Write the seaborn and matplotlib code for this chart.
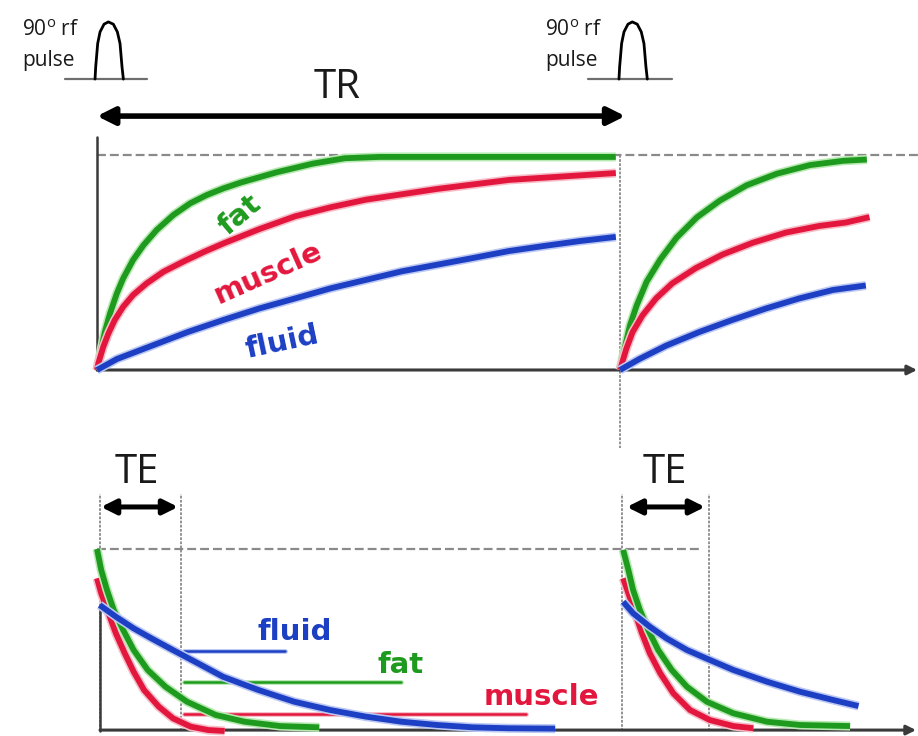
import matplotlib.pyplot as plt
import matplotlib.patheffects as pe
import seaborn as sns
import numpy as np
import pandas as pd

# time in ms (TR = 1000 ms), signal as fraction of the equilibrium magnetisation
TR = 1000
tissues = ['fat', 'muscle', 'fluid']

# T1 recovery (Mz) after the first pulse
rec1_t = {
    'fat': [0, 2.5, 9, 15, 25, 38, 50, 69, 89, 114, 146, 178, 210, 242, 275, 344, 413, 474, 540, 992],
    'muscle': [0, 2.5, 12, 22, 34, 50, 69, 95, 127, 165, 205, 243, 310, 379, 447, 514, 650, 788, 992],
    'fluid': [0, 38, 105, 174, 242, 310, 379, 447, 514, 583, 651, 719, 787, 855, 924, 992],
}
rec1_s = {
    'fat': [0, 0.031, 0.108, 0.178, 0.264, 0.357, 0.426, 0.512, 0.581, 0.651, 0.721, 0.775, 0.814,
            0.845, 0.872, 0.920, 0.960, 0.985, 0.991, 0.991],
    'muscle': [0, 0.031, 0.108, 0.171, 0.233, 0.294, 0.349, 0.403, 0.457, 0.504, 0.550, 0.590, 0.655,
               0.715, 0.757, 0.792, 0.842, 0.884, 0.916],
    'fluid': [0, 0.051, 0.113, 0.177, 0.233, 0.286, 0.333, 0.380, 0.419, 0.459, 0.490, 0.521, 0.553, 0.577, 0.600, 0.619],
}
# T1 recovery after the second pulse (time since that pulse)
rec2_t = {
    'fat': [0, 10, 19, 32, 51, 77, 108, 147, 191, 242, 300, 363, 427, 472],
    'muscle': [0, 12, 24, 43, 69, 100, 145, 196, 254, 317, 381, 432, 477],
    'fluid': [0, 37, 88, 152, 215, 279, 343, 407, 470],
}
rec2_s = {
    'fat': [0, 0.113, 0.207, 0.301, 0.411, 0.514, 0.615, 0.710, 0.788, 0.859, 0.913, 0.953, 0.973, 0.979],
    'muscle': [0, 0.098, 0.176, 0.254, 0.333, 0.403, 0.474, 0.537, 0.592, 0.639, 0.670, 0.686, 0.711],
    'fluid': [0, 0.051, 0.113, 0.177, 0.233, 0.286, 0.333, 0.372, 0.393],
}

# T2 decay (Mxy) after the first pulse
dec1_t = {
    'fat': [0, 8, 19, 32, 50, 70, 97, 131, 172, 227, 282, 350, 425],
    'muscle': [0, 8, 22, 36, 53, 70, 90, 118, 145, 179, 213, 244],
    'fluid': [5, 36, 70, 104, 145, 193, 241, 309, 377, 446, 514, 582, 650, 719, 787, 876],
}
dec1_s = {
    'fat': [1.0, 0.885, 0.775, 0.665, 0.555, 0.445, 0.335, 0.243, 0.161, 0.088, 0.051, 0.027, 0.020],
    'muscle': [0.839, 0.757, 0.647, 0.537, 0.427, 0.326, 0.225, 0.134, 0.070, 0.024, 0.005, 0.0],
    'fluid': [0.692, 0.628, 0.564, 0.509, 0.445, 0.372, 0.298, 0.225, 0.161, 0.115, 0.079, 0.051, 0.033, 0.020, 0.015, 0.013],
}
# T2 decay after the second pulse
dec2_t = {
    'fat': [6, 16, 25, 38, 54, 73, 99, 128, 166, 217, 281, 344, 440],
    'muscle': [6, 16, 29, 42, 57, 77, 102, 134, 172, 217, 255],
    'fluid': [6, 25, 57, 89, 128, 172, 217, 281, 344, 408, 456],
}
dec2_s = {
    'fat': [0.995, 0.885, 0.775, 0.665, 0.555, 0.445, 0.335, 0.243, 0.161, 0.097, 0.051, 0.033, 0.027],
    'muscle': [0.839, 0.757, 0.647, 0.537, 0.427, 0.317, 0.207, 0.115, 0.060, 0.027, 0.015],
    'fluid': [0.710, 0.647, 0.573, 0.509, 0.445, 0.390, 0.335, 0.271, 0.216, 0.170, 0.137],
}

# shape of the rf pulse glyph (time from its left foot, fraction of height)
pulse_t = [0, 1.3, 5.1, 9.6, 17.2, 25.5, 35, 42.7, 47.8, 51.6, 54.2]
pulse_h = [0, 0.215, 0.623, 0.825, 0.96, 1.0, 0.96, 0.825, 0.623, 0.215, 0]

palette = {'fat': '#1e9b1e', 'muscle': '#e3173d', 'fluid': '#1c3fc4'}
halo = {'fat': '#b9e9b3', 'muscle': '#f6bcc7', 'fluid': '#bcc8f3'}
ink = '#1a1a1a'

sns.set_theme(style='white')
plt.rcParams['font.family'] = ['DejaVu Sans']

fig = plt.figure(figsize=(9.18, 7.36), dpi=100)
ax_top = fig.add_axes([0, 316 / 736, 1, 420 / 736])
ax_bot = fig.add_axes([0, 0, 1, 316 / 736])
for ax in (ax_top, ax_bot):
    ax.set_xlim(-185.5, 1569.8)
    ax.axis('off')
ax_top.set_ylim(-0.2326, 1.7209)
ax_bot.set_ylim(-0.0275, 1.7088)


def curve(ax, t, s, tissue, offset=0):
    df = pd.DataFrame({'t': np.array(t) + offset, 'signal': s})
    sns.lineplot(data=df, x='t', y='signal', color=palette[tissue], lw=4.2,
                 sort=False, estimator=None, ax=ax, solid_capstyle='butt',
                 solid_joinstyle='round', zorder=5)
    ax.lines[-1].set_path_effects([pe.Stroke(linewidth=6.5, foreground=halo[tissue]), pe.Normal()])


grey = '#8a8a8a'
axis_col = '#3a3a3a'

# ---------- top panel: T1 recovery ----------
ax_top.plot([0, 1570], [1, 1], color=grey, lw=1.6, ls=(0, (4, 1.8)), zorder=1)
ax_top.plot([0, 0], [0, 1.084], color=axis_col, lw=1.8, zorder=2)
ax_top.annotate('', xy=(1568, 0), xytext=(0, 0),
                arrowprops=dict(arrowstyle='-|>', mutation_scale=14, lw=2.2, color=axis_col,
                                shrinkA=0, shrinkB=0), zorder=2)
ax_top.plot([TR, TR], [1, -0.363], color=grey, lw=1.3, ls=(0, (1.5, 0.8)), clip_on=False, zorder=1)

for tis in tissues:
    curve(ax_top, rec1_t[tis], rec1_s[tis], tis)
    curve(ax_top, rec2_t[tis], rec2_s[tis], tis, offset=TR)

label_kw = dict(fontsize=21, fontweight='bold', ha='center', va='center', zorder=6)
ax_top.text(273, 0.72, 'fat', color=palette['fat'], rotation=40, **label_kw)
ax_top.text(327, 0.45, 'muscle', color=palette['muscle'], rotation=24, **label_kw)
ax_top.text(354, 0.126, 'fluid', color=palette['fluid'], rotation=12, **label_kw)

# TR arrow and label
ax_top.annotate('', xy=(1010, 1.181), xytext=(0, 1.181),
                arrowprops=dict(arrowstyle='<|-|>', mutation_scale=26, lw=4, color='black',
                                shrinkA=0, shrinkB=0))
ax_top.text(459, 1.312, 'TR', fontsize=29, color=ink, ha='center', va='center',
            family=['Open Sans', 'DejaVu Sans'])

# rf pulses
for start, base_l, base_r, txt_t in [(-3.8, -61, 96, -143), (998, 939, 1099, 857)]:
    ax_top.plot([base_l, base_r], [1.353, 1.353], color='#6e6e6e', lw=1.6)
    ax_top.plot(np.array(pulse_t) + start, 1.353 + 0.266 * np.array(pulse_h),
                color='black', lw=2.0, solid_capstyle='round', solid_joinstyle='round')
    ax_top.text(txt_t, 1.58, '90$^{\\mathregular{o}}$ rf', fontsize=15, color=ink,
                ha='left', va='center', family=['Open Sans', 'DejaVu Sans'])
    ax_top.text(txt_t, 1.44, 'pulse', fontsize=15, color=ink,
                ha='left', va='center', family=['Open Sans', 'DejaVu Sans'])

# ---------- bottom panel: T2 decay ----------
ax_bot.plot([0, 1153], [1, 1], color=grey, lw=1.6, ls=(0, (4, 1.8)), zorder=1)
ax_bot.annotate('', xy=(1566, 0.005), xytext=(5.7, 0.005),
                arrowprops=dict(arrowstyle='-|>', mutation_scale=14, lw=2.2, color=axis_col,
                                shrinkA=0, shrinkB=0), zorder=2)
ax_bot.plot([5.7, 5.7], [0, 0.69], color=axis_col, lw=1.8, zorder=2)
for tx in (5.7, 160.6, 1003.8, 1170):
    ax_bot.plot([tx, tx], [0, 1.30], color=grey, lw=1.3, ls=(0, (1.5, 0.8)), zorder=1)

# leader lines to the labels
ax_bot.plot([166, 360], [0.44, 0.44], color=palette['fluid'], lw=1.8, zorder=3,
            path_effects=[pe.Stroke(linewidth=3.5, foreground=halo['fluid']), pe.Normal()])
ax_bot.plot([166, 581], [0.269, 0.269], color=palette['fat'], lw=1.8, zorder=3,
            path_effects=[pe.Stroke(linewidth=3.5, foreground=halo['fat']), pe.Normal()])
ax_bot.plot([166, 820], [0.093, 0.093], color=palette['muscle'], lw=1.8, zorder=3,
            path_effects=[pe.Stroke(linewidth=3.5, foreground=halo['muscle']), pe.Normal()])

for tis in ['muscle', 'fat', 'fluid']:
    curve(ax_bot, dec1_t[tis], dec1_s[tis], tis)
    curve(ax_bot, dec2_t[tis], dec2_s[tis], tis, offset=TR)

blabel_kw = dict(fontsize=21, fontweight='bold', ha='left', va='center', zorder=6)
ax_bot.text(306, 0.544, 'fluid', color=palette['fluid'], **blabel_kw)
ax_bot.text(537, 0.363, 'fat', color=palette['fat'], **blabel_kw)
ax_bot.text(739, 0.187, 'muscle', color=palette['muscle'], **blabel_kw)

# TE arrows and labels
for t0, t1, tc in [(7.6, 155, 76.5), (1013, 1162.5, 1086)]:
    ax_bot.annotate('', xy=(t1, 1.231), xytext=(t0, 1.231),
                    arrowprops=dict(arrowstyle='<|-|>', mutation_scale=22, lw=3.6, color='black',
                                    shrinkA=0, shrinkB=0))
    ax_bot.text(tc, 1.42, 'TE', fontsize=29, color=ink, ha='center', va='center',
                family=['Open Sans', 'DejaVu Sans'])

fig.savefig('out.png', dpi=100, facecolor='white')
